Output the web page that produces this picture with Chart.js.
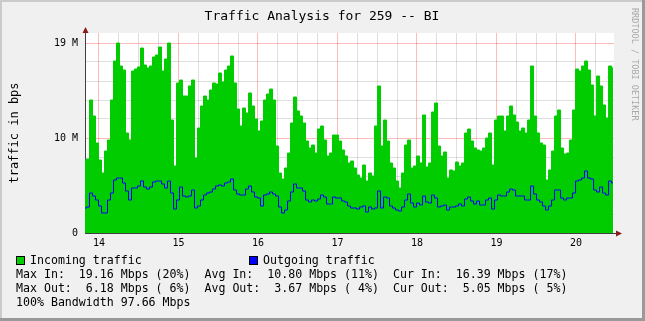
<!DOCTYPE html>
<html>
<head>
<meta charset="utf-8">
<script src="https://cdn.jsdelivr.net/npm/chart.js@4.4.0/dist/chart.umd.min.js"></script>
<style>
  html, body { margin: 0; padding: 0; background: #f0f0f0; }
  canvas { display: block; }
</style>
</head>
<body>
<canvas id="grafico" width="645" height="321"></canvas>
<script>
const FONT = "'DejaVu Sans Mono', monospace";

// one sample every ~54 min, x in days of the month
const firstSample = 13.825;
const sampleStep = 0.03774;

// Mbps
const incoming = [
    7.3, 7.4, 13.3, 11.7, 9.0, 7.3, 6.0, 8.2, 9.3, 13.3,
    17.2, 19.0, 16.7, 16.3, 10.0, 9.3, 16.2, 16.4, 16.6, 18.5,
    16.8, 16.5, 16.7, 17.6, 17.8, 18.6, 16.2, 17.4, 19.0, 11.3,
    6.7, 15.0, 15.3, 13.7, 13.7, 14.7, 15.3, 7.5, 10.5, 12.7,
    13.7, 13.3, 14.3, 15.0, 14.9,
    16.0, 15.1, 16.3, 16.7, 17.7, 15.0, 12.4, 10.7, 12.5, 12.0,
    14.0, 12.7, 11.4, 10.2, 11.2, 13.3, 13.9, 14.4, 13.3, 8.7,
    6.0, 5.4, 6.5, 8.0, 11.0, 13.6, 12.2, 11.7, 11.0, 9.2,
    8.5, 8.8, 8.0, 10.4, 10.7, 9.3, 7.7, 8.0, 9.8, 9.8,
    9.2, 8.3, 7.7, 7.0,
    7.2, 6.5, 5.8, 5.5, 6.8, 5.2, 6.0, 5.7, 10.7, 14.7,
    8.7, 11.3, 9.2, 7.0, 6.5, 5.2, 4.5, 6.0, 8.8, 9.3,
    6.5, 6.7, 7.7, 7.0, 11.8, 6.6, 7.0, 12.1, 13.0, 8.7,
    7.7, 8.1, 5.5, 6.3, 6.2, 7.1, 6.7, 7.0, 10.0, 10.4,
    9.2, 8.5, 8.3, 8.2,
    8.5, 9.5, 10.0, 6.8, 11.3, 11.7, 11.7, 10.2, 11.7, 12.7,
    11.8, 11.1, 10.2, 10.5, 10.0, 11.3, 16.7, 11.7, 10.0, 9.0,
    8.8, 5.3, 6.3, 8.2, 11.7, 12.3, 8.5, 7.9, 8.0, 9.3,
    12.3, 16.4, 16.2, 16.7, 17.2, 16.3, 14.8, 11.7, 15.7, 14.7,
    12.8, 11.5, 16.7, 16.5
];

const outgoing = [
    2.5, 2.6, 4.0, 3.7, 3.3, 2.7, 2.0, 2.0, 3.3, 4.0,
    5.3, 5.5, 5.5, 5.0, 4.2, 3.3, 4.5, 4.5, 4.7, 5.2,
    4.6, 4.4, 4.6, 5.1, 5.2, 5.2, 4.9, 4.5, 5.2, 4.0,
    2.4, 3.3, 4.6, 3.7, 3.6, 3.7, 4.3, 2.5, 2.7, 3.3,
    3.8, 4.0, 4.1, 4.4, 4.7,
    4.8, 4.7, 5.0, 5.1, 5.4, 4.3, 3.9, 3.8, 3.8, 4.4,
    4.7, 4.1, 3.6, 3.5, 2.7, 3.8, 3.9, 4.1, 3.9, 3.7,
    2.6, 2.0, 2.3, 3.2, 4.1, 4.9, 4.5, 4.5, 4.2, 3.3,
    3.1, 3.3, 3.2, 3.4, 3.8, 3.6, 2.9, 2.9, 3.6, 3.5,
    3.5, 3.2, 3.1, 2.7,
    2.5, 2.5, 2.4, 2.6, 2.7, 2.1, 2.6, 2.4, 2.5, 4.2,
    2.5, 3.6, 3.5, 2.7, 2.5, 2.3, 2.2, 2.6, 3.3, 3.9,
    3.0, 2.6, 3.0, 2.8, 3.7, 3.1, 3.0, 3.8, 3.5, 2.6,
    2.7, 2.8, 2.3, 2.6, 2.6, 2.7, 2.9, 2.7, 3.4, 3.6,
    3.2, 2.9, 3.2, 2.8,
    2.8, 3.3, 3.5, 2.4, 3.3, 3.8, 3.7, 3.7, 4.1, 4.4,
    4.3, 3.7, 3.7, 3.7, 3.3, 3.3, 4.7, 3.9, 3.3, 3.1,
    2.7, 2.3, 2.7, 3.3, 4.3, 4.3, 3.5, 3.3, 3.5, 3.5,
    4.0, 5.2, 5.3, 5.5, 6.2, 5.5, 5.4, 4.3, 4.1, 4.6,
    4.0, 3.8, 5.2, 5.0
];

// ticks
const yTicks = [0, 1.9, 3.8, 5.7, 7.6, 9.5, 11.4, 13.3, 15.2, 17.1, 19];
const days = [14, 15, 16, 17, 18, 19, 20];
const xTicks = days.flatMap(d => [d, d + 0.25, d + 0.5, d + 0.75]).filter(v => v <= 20.25);

const titulo = "Traffic Analysis for 259 -- BI";
const leyenda = [
    { label: "Incoming traffic", color: "#00cc00" },
    { label: "Outgoing traffic", color: "#0000ff" }
];
const estadisticas = [
    "Max In:  19.16 Mbps (20%)  Avg In:  10.80 Mbps (11%)  Cur In:  16.39 Mbps (17%)",
    "Max Out:  6.18 Mbps ( 6%)  Avg Out:  3.67 Mbps ( 4%)  Cur Out:  5.05 Mbps ( 5%)",
    "100% Bandwidth 97.66 Mbps"
];

const toPoints = arr => arr.map((v, i) => ({ x: firstSample + i * sampleStep, y: v }));

const MAJOR = "rgba(255,0,0,0.27)";
const MINOR = "rgba(110,110,110,0.22)";
const AXIS = "#404040";
const ARROW = "#8b1a1a";

// frame, title, legend, arrows
const marco = {
    id: "marco",
    beforeDraw(chart) {
        const { ctx, width, height, chartArea: a } = chart;
        ctx.save();
        ctx.fillStyle = "#f0f0f0";
        ctx.fillRect(0, 0, width, height);
        ctx.fillStyle = "#cbcbcb";
        ctx.fillRect(0, 0, width, 2);
        ctx.fillRect(0, 0, 2, height);
        ctx.fillStyle = "#999999";
        ctx.fillRect(0, height - 3, width, 3);
        ctx.fillRect(width - 3, 0, 3, height);
        ctx.fillStyle = "#ffffff";
        ctx.fillRect(a.left, a.top, a.right - a.left, a.bottom - a.top);
        ctx.restore();
    },
    afterDraw(chart) {
        const { ctx, chartArea: a } = chart;
        ctx.save();

        ctx.fillStyle = "#000";
        ctx.font = "13px " + FONT;
        ctx.textAlign = "center";
        ctx.textBaseline = "middle";
        ctx.fillText(titulo, 322, 17);

        // axis arrows
        ctx.strokeStyle = AXIS;
        ctx.lineWidth = 1;
        ctx.beginPath();
        ctx.moveTo(a.left + 0.5, a.top);
        ctx.lineTo(a.left + 0.5, a.top - 3);
        ctx.moveTo(a.right, a.bottom + 0.5);
        ctx.lineTo(a.right + 4, a.bottom + 0.5);
        ctx.stroke();
        ctx.fillStyle = ARROW;
        ctx.beginPath();
        ctx.moveTo(a.left + 0.5, a.top - 6);
        ctx.lineTo(a.left - 2.5, a.top);
        ctx.lineTo(a.left + 3.5, a.top);
        ctx.closePath();
        ctx.fill();
        ctx.beginPath();
        ctx.moveTo(a.right + 8, a.bottom + 0.5);
        ctx.lineTo(a.right + 2, a.bottom - 2.5);
        ctx.lineTo(a.right + 2, a.bottom + 3.5);
        ctx.closePath();
        ctx.fill();

        // legend
        ctx.font = "11.6px " + FONT;
        ctx.textAlign = "left";
        const xs = [16, 249];
        leyenda.forEach((l, i) => {
            ctx.fillStyle = l.color;
            ctx.fillRect(xs[i] + 0.5, 256.5, 8, 8);
            ctx.strokeStyle = "#000";
            ctx.strokeRect(xs[i] + 0.5, 256.5, 8, 8);
            ctx.fillStyle = "#000";
            ctx.fillText(l.label, xs[i] + 14, 261);
        });
        estadisticas.forEach((t, i) => {
            ctx.fillText(t, 16, 275 + i * 14);
        });

        // watermark
        ctx.translate(634, 8);
        ctx.rotate(Math.PI / 2);
        ctx.font = "8.5px " + FONT;
        ctx.fillStyle = "#a8a8a8";
        ctx.fillText("RRDTOOL / TOBI OETIKER", 0, 0);
        ctx.restore();
    }
};

new Chart(document.getElementById("grafico"), {
    type: "line",
    data: {
        datasets: [{
            label: leyenda[0].label,
            data: toPoints(incoming),
            borderColor: "#00cc00",
            backgroundColor: "#00cc00",
            borderWidth: 1,
            fill: "origin",
            stepped: "middle",
            pointRadius: 0,
            order: 2,
        }, {
            label: leyenda[1].label,
            data: toPoints(outgoing),
            borderColor: "#0000ff",
            borderWidth: 1,
            fill: false,
            stepped: "middle",
            pointRadius: 0,
            order: 1,
        }],
    },
    options: {
        responsive: false,
        animation: false,
        devicePixelRatio: 1,
        layout: { padding: { left: 0, top: 33, right: 31, bottom: 0 } },
        plugins: {
            legend: { display: false },
            tooltip: { enabled: false },
        },
        scales: {
            x: {
                type: "linear",
                min: 13.825,
                max: 20.479,
                z: 1,
                afterBuildTicks: s => { s.ticks = xTicks.map(v => ({ value: v })); },
                afterFit: s => { s.height = 88; },
                grid: {
                    color: c => Number.isInteger(c.tick.value) ? MAJOR : MINOR,
                    drawTicks: false,
                },
                border: { color: AXIS },
                ticks: {
                    autoSkip: false,
                    maxRotation: 0,
                    padding: 4,
                    color: "#000",
                    font: { family: FONT, size: 10 },
                    callback: v => Number.isInteger(v) ? String(v) : "",
                },
            },
            y: {
                min: 0,
                max: 20,
                z: 1,
                afterBuildTicks: s => { s.ticks = yTicks.map(v => ({ value: v })); },
                afterFit: s => { s.width = 85; },
                grid: {
                    color: c => c.index % 5 === 0 ? MAJOR : MINOR,
                    drawTicks: false,
                },
                border: { color: AXIS },
                ticks: {
                    autoSkip: false,
                    padding: 7,
                    color: "#000",
                    font: { family: FONT, size: 10 },
                    callback: (v, i) => i % 5 === 0 ? (v === 0 ? "0" : Math.round(v) + " M") : "",
                },
                title: {
                    display: true,
                    text: "traffic in bps",
                    color: "#000",
                    font: { family: FONT, size: 12 },
                    padding: { top: 8, bottom: 0 },
                },
            },
        },
    },
    plugins: [marco],
});
</script>
</body>
</html>
